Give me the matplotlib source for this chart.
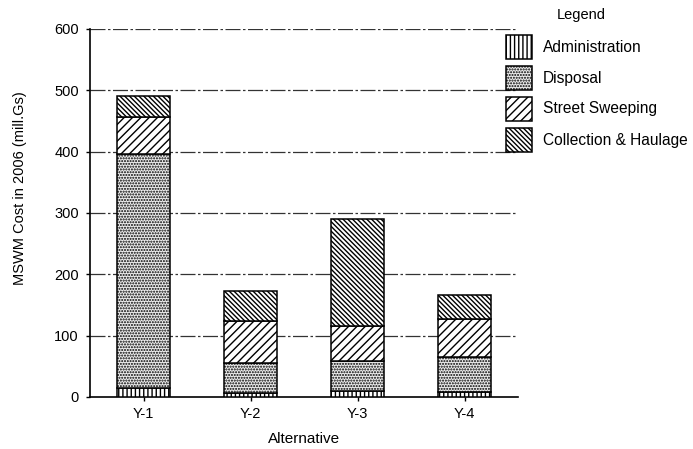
import matplotlib
matplotlib.use("Agg")
import matplotlib.pyplot as plt
from matplotlib.patches import Rectangle
import numpy as np

plt.rcParams['font.family'] = ['Liberation Sans', 'DejaVu Sans']
plt.rcParams['hatch.linewidth'] = 1.0

# Cost breakdown per alternative (million Gs, 2006)
alternatives = ["Y-1", "Y-2", "Y-3", "Y-4"]
administration = [15, 7, 10, 8]
disposal = [382, 48, 49, 58]
street_sweeping = [60, 69, 56, 61]
collection_haulage = [34, 49, 175, 39]

series_names = ["Administration", "Disposal", "Street Sweeping", "Collection & Haulage"]
series_values = [administration, disposal, street_sweeping, collection_haulage]
hatches = ["||||", "......", "////", "\\" * 7]
fills = ["white", "#ededed", "white", "white"]

y_ticks = [0, 100, 200, 300, 400, 500, 600]

W, H = 693, 449
fig = plt.figure(figsize=(W / 100, H / 100), dpi=100)
ax = fig.add_axes([90 / W, 1 - 397 / H, 428 / W, 368 / H])

x = np.arange(len(alternatives))
bottom = np.zeros(len(alternatives))
for name, vals, hatch, fc in zip(series_names, series_values, hatches, fills):
    ax.bar(x, vals, width=0.5, bottom=bottom, facecolor=fc,
           edgecolor="black", linewidth=1.1, hatch=hatch, label=name, zorder=3)
    bottom += np.array(vals)

ax.set_xlim(-0.5, 3.5)
ax.set_ylim(0, 600)
ax.set_yticks(y_ticks)
ax.set_xticks(x)
ax.set_xticklabels(alternatives)
ax.tick_params(axis="both", labelsize=10.5, length=3, width=1, colors="black")
ax.tick_params(axis="y", pad=5)
ax.tick_params(axis="x", pad=4)

for yv in y_ticks[1:]:
    ax.axhline(yv, color="#333333", linewidth=0.9,
               linestyle=(0, (12, 2, 2, 2)), zorder=1)

for side in ("top", "right"):
    ax.spines[side].set_visible(False)
ax.spines["left"].set_linewidth(1.2)
ax.spines["bottom"].set_linewidth(1.2)

ax.set_xlabel("Alternative", fontsize=11, labelpad=8)
fig.text(20 / W, 1 - 188 / H, "MSWM Cost in 2006 (mill.Gs)", rotation=90,
         ha="center", va="center", fontsize=10.5)

# Legend block to the right of the plot
fig.text(581 / W, 1 - 15 / H, "Legend", ha="center", va="center", fontsize=10.5)
row_tops = [35, 66, 97, 128]
for top, name, hatch, fc in zip(row_tops, series_names, hatches, fills):
    fig.add_artist(Rectangle((506 / W, 1 - (top + 24) / H), 26 / W, 24 / H,
                             transform=fig.transFigure, facecolor=fc,
                             edgecolor="black", linewidth=1.1, hatch=hatch))
    fig.text(543 / W, 1 - (top + 12) / H, name, ha="left", va="center", fontsize=11.2)

fig.savefig("out.png", dpi=100)
